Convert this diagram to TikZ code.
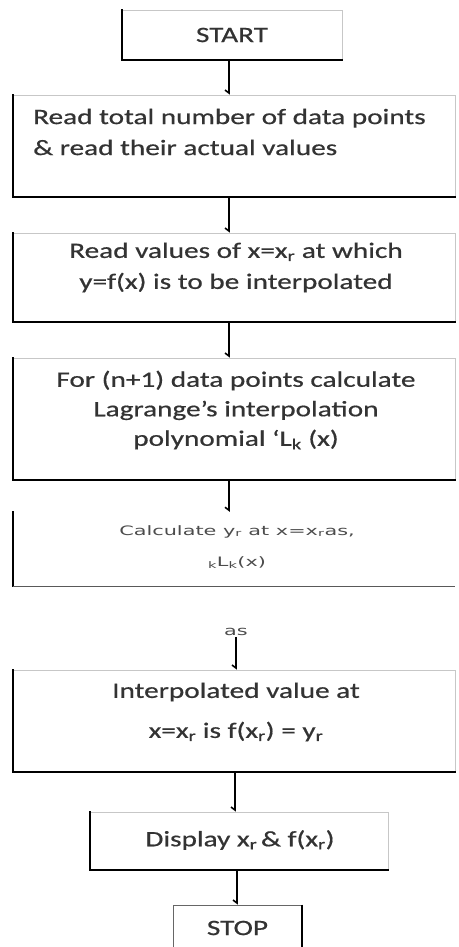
\documentclass[tikz,border=0pt]{standalone}
\usepackage{fontspec}
\setmainfont{Carlito}[FakeStretch=1.33,FakeBold=0.6]
\newfontfamily\smallfam{DejaVu Sans}[FakeStretch=1.6]
\usetikzlibrary{arrows.meta}
\tikzset{
  box/.style={draw=black!22, line width=0.7pt, fill=white, inner sep=0pt},
  edge/.style={line width=2.2pt, line cap=rect},
  txt/.style={text=black!80, font=\fontsize{22}{31}\selectfont, inner sep=0pt},
  smalltxt/.style={text=black!70, font=\smallfam\fontsize{13}{31}\selectfont, inner sep=0pt},
  conn/.style={line width=1.3pt, -{Straight Barb[right,length=3pt,width=8pt,line width=1.6pt]}},
}
\begin{document}
\begin{tikzpicture}[x=1pt,y=-1pt]
\useasboundingbox (0,0) rectangle (458,947);
% START
\node[box, minimum width=220, minimum height=50] (start) at (232,35) {};
\draw[edge] (start.north west) -- (start.south west) -- (start.south east);
\node[txt] (tstart) at (232,35) {START};
% box 2
\node[box, minimum width=442, minimum height=102] (b2) at (234,146) {};
\draw[edge] (b2.north west) -- (b2.south west) -- (b2.south east);
\node[txt, anchor=west, align=left] (t2) at (33,132) {Read total number of data points\\\& read their actual values};
% box 3
\node[box, minimum width=442, minimum height=89] (b3) at (234,277.5) {};
\draw[edge] (b3.north west) -- (b3.south west) -- (b3.south east);
\node[txt, align=center] (t3) at (236,267.5) {Read values of x=x\textsubscript{r} at which\\y=f(x) is to be interpolated};
% box 4
\node[box, minimum width=442, minimum height=122] (b4) at (234,419) {};
\draw[edge] (b4.north west) -- (b4.south west) -- (b4.south east);
\node[txt, align=center, font=\fontsize{22}{29.5}\selectfont] (t4) at (236,410) {For (n+1) data points calculate\\Lagrange’s interpolation\\polynomial ‘L\textsubscript{k} (x)};
% box 5 (open box)
\node[inner sep=0pt, minimum width=442, minimum height=74] (b5) at (234,549) {};
\draw[edge, line width=2pt] (b5.north west) -- (b5.south west);
\draw[line width=1.4pt, black!65] (b5.south west) -- (b5.south east);
\node[smalltxt, align=center] (t5) at (237,547) {Calculate y\textsubscript{r} at x=x\textsubscript{r}as,\\\textsubscript{k}L\textsubscript{k}(x)};
% "as"
\node[smalltxt, inner sep=1pt] (as) at (236,632) {as};
% box 6
\node[box, minimum width=442, minimum height=102] (b6) at (234,721) {};
\draw[edge] (b6.north west) -- (b6.south west) -- (b6.south east);
\node[txt, align=center, font=\fontsize{22}{40}\selectfont] (t6) at (236,712) {Interpolated value at\\x=x\textsubscript{r} is f(x\textsubscript{r}) = y\textsubscript{r}};
% box 7
\node[box, minimum width=298, minimum height=58] (b7) at (239,841) {};
\draw[edge] (b7.north west) -- (b7.south west) -- (b7.south east);
\node[txt] (t7) at (240,840) {Display x\textsubscript{r}\,\& f(x\textsubscript{r})};
% STOP
\begin{scope}
\clip (0,0) rectangle (458,947);
\node[box, draw=black!60, line width=0.8pt, minimum width=129, minimum height=60] (stop) at (237.5,935) {};
\draw[line width=2pt] (stop.north east) -- (stop.south east);
\end{scope}
\node[txt] (tstop) at (237.5,928) {STOP};
% connectors
\draw[conn] (start.south -| 229,0) -- (b2.north -| 229,0);
\draw[conn] (b2.south -| 229,0) -- (b3.north -| 229,0);
\draw[conn] (b3.south -| 229,0) -- (b4.north -| 229,0);
\draw[conn] (b4.south -| 229,0) -- (b5.north -| 229,0);
\draw[conn] (as.south) -- (as.south |- b6.north);
\draw[conn] (b6.south -| 235,0) -- (b7.north -| 235,0);
\draw[conn] (b7.south -| 237,0) -- (stop.north -| 237,0);
\end{tikzpicture}
\end{document}
